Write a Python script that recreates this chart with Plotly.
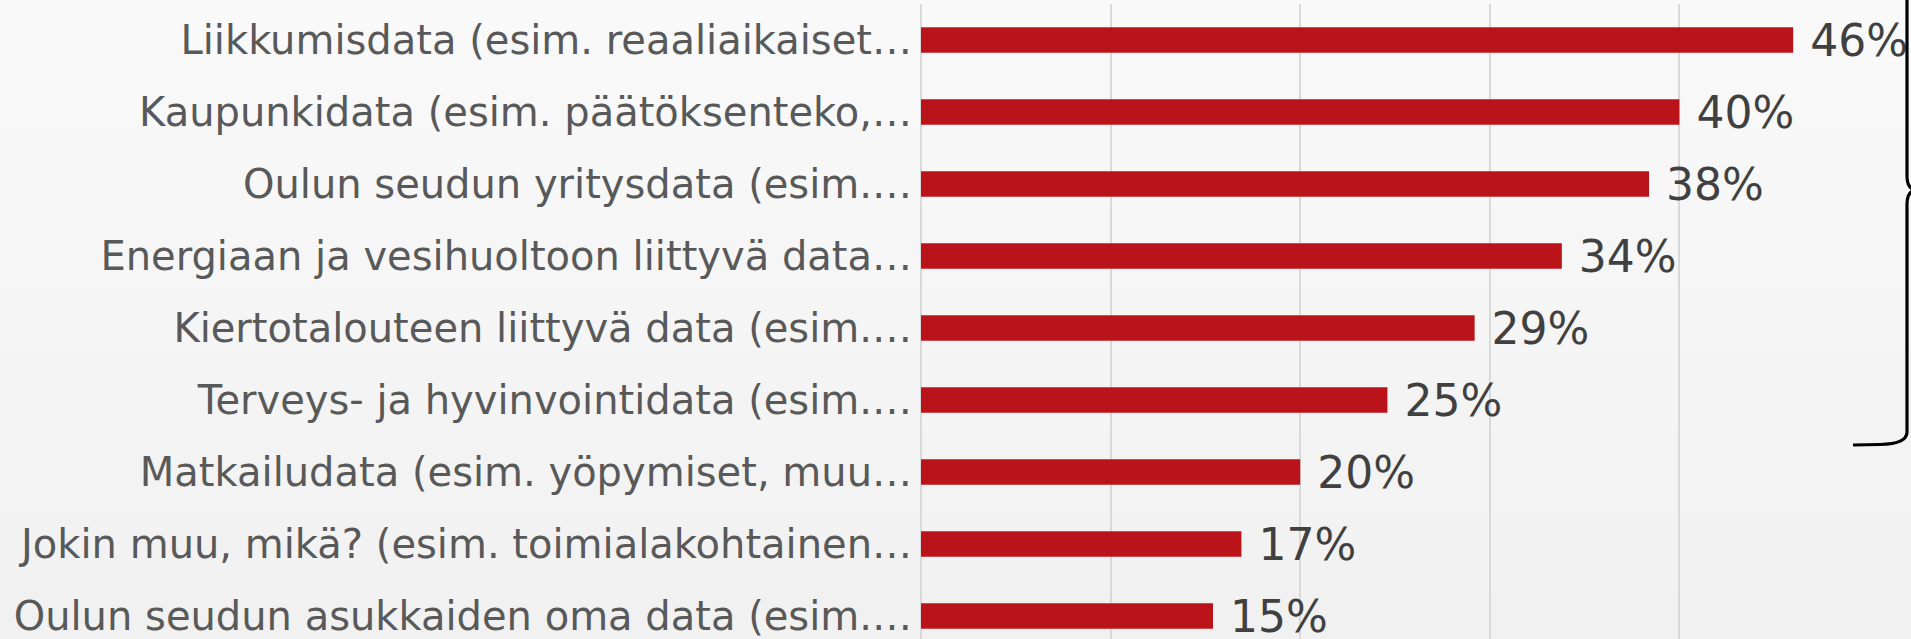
import plotly.graph_objects as go

# ---- data ----
categories = [
    "Liikkumisdata (esim. reaaliaikaiset…",
    "Kaupunkidata (esim. päätöksenteko,…",
    "Oulun seudun yritysdata (esim.…",
    "Energiaan ja vesihuoltoon liittyvä data…",
    "Kiertotalouteen liittyvä data (esim.…",
    "Terveys- ja hyvinvointidata (esim.…",
    "Matkailudata (esim. yöpymiset, muu…",
    "Jokin muu, mikä? (esim. toimialakohtainen…",
    "Oulun seudun asukkaiden oma data (esim.…",
]
shares = [0.46, 0.40, 0.384, 0.338, 0.292, 0.246, 0.20, 0.169, 0.154]
x_ticks = [0, 0.1, 0.2, 0.3, 0.4, 0.5]

# ---- layout geometry ----
W, H = 1911, 639
L, R, T, B = 921, 42, 4, 0
PW, PH = W - L - R, H - T - B


def px(x):
    return (x - L) / PW


def py(y):
    return (H - B - y) / PH


fig = go.Figure()
fig.add_trace(go.Bar(
    y=categories,
    x=shares,
    orientation="h",
    marker=dict(color="#BA131A", line=dict(width=0)),
    texttemplate="\u00a0%{x:.0%}",
    textposition="outside",
    constraintext="none",
    cliponaxis=False,
    textfont=dict(family="DejaVu Sans", size=44, color="#404040"),
    hoverinfo="skip",
))

# background gradient (light grey, slightly darker toward the bottom)
shapes = []
N = 40
for i in range(N):
    t = i / (N - 1)
    c = round(249 - 8 * t)
    y0 = i * H / N
    y1 = (i + 1) * H / N + 1
    shapes.append(dict(
        type="rect", xref="paper", yref="paper", layer="below",
        x0=px(0), x1=px(W), y0=py(y1), y1=py(y0),
        fillcolor=f"rgb({c},{c},{c})", line=dict(width=0),
    ))

# curly brace on the right
pts = [
    ("M", [(1907, -20)]),
    ("L", [(1907, 176)]),
    ("Q", [(1907, 189), (1916, 190)]),
    ("Q", [(1907, 191), (1907, 204)]),
    ("L", [(1907, 432)]),
    ("Q", [(1907, 444), (1880, 444.5)]),
    ("L", [(1853, 445)]),
]
path = ""
for cmd, ps in pts:
    path += cmd + " " + " ".join(f"{px(a):.6f},{py(b):.6f}" for a, b in ps) + " "
shapes.append(dict(type="path", xref="paper", yref="paper", path=path.strip(),
                   line=dict(color="black", width=3.2), layer="above"))

fig.update_layout(
    width=W, height=H,
    margin=dict(l=L, r=R, t=T, b=B, pad=0),
    paper_bgcolor="#f5f5f5",
    plot_bgcolor="rgba(0,0,0,0)",
    bargap=0.646,
    showlegend=False,
    shapes=shapes,
    font=dict(family="DejaVu Sans", color="#595959"),
    xaxis=dict(
        range=[0, 0.5], tickvals=x_ticks, showticklabels=False,
        showgrid=True, gridcolor="#d9d9d9", gridwidth=2,
        zeroline=True, zerolinecolor="#d9d9d9", zerolinewidth=2,
        showline=False, fixedrange=True,
    ),
    yaxis=dict(
        categoryorder="array", categoryarray=categories,
        range=[8.319, -0.5], showgrid=False, zeroline=False, showline=False,
        tickfont=dict(family="DejaVu Sans", size=40, color="#595959"),
        ticks="", ticklabelstandoff=8, fixedrange=True,
    ),
)

fig.write_html(
    "out.html",
    config={"displayModeBar": False},
    post_script="document.body.style.margin='0';document.body.style.overflow='hidden';",
)
